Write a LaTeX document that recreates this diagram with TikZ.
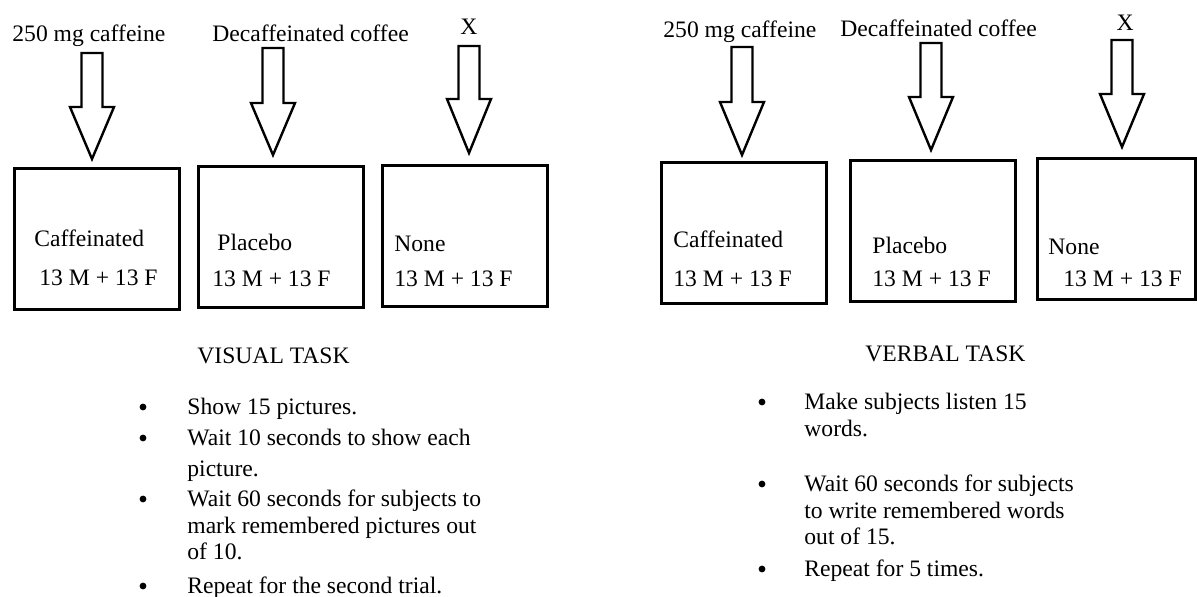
\documentclass[tikz,border=0pt]{standalone}
\usepackage{fontspec}
\setmainfont{Liberation Serif}
\usetikzlibrary{positioning}

% hollow block arrow: centre x, top, shoulder, tip
\newcommand{\fatarrow}[4]{%
 \draw[line width=1.2pt](#1-10.5,#2)--(#1+10.5,#2)--(#1+10.5,#3)--(#1+22,#3)--(#1,#4)--(#1-22,#3)--(#1-10.5,#3)--cycle;}

\tikzset{
 group/.style={draw,line width=1.5pt,minimum width=82.5pt,minimum height=70.5pt,inner sep=0pt},
 txt/.style={anchor=base west,inner sep=0pt},
 dot/.style={circle,fill,inner sep=0pt,minimum size=3.4pt}
}

\begin{document}
\begin{tikzpicture}[x=0.5pt,y=-0.5pt,font=\fontsize{11.8}{14}\selectfont]
 \useasboundingbox (0,0) rectangle (1197,596);
 % visual task
 \node[txt] (dose1) at (12,41) {250 mg caffeine};
 \node[txt] (decaf1) at (212,41) {Decaffeinated coffee};
 \node[inner sep=0pt] (x1) at (469,27) {X};
 \fatarrow{92}{53}{107}{159}
 \fatarrow{273}{48}{103}{155}
 \fatarrow{469}{46}{99}{153}
 \node[group] (caf1) at (96.5,238.5) {};
 \node[group] (plac1) at (281,237) {};
 \node[group] (none1) at (464.5,235.5) {};
 \node[txt] (caft1) at (34,246) {Caffeinated};
 \node[txt] (cafn1) at (39,285) {13 M + 13 F};
 \node[txt] (plact1) at (217,250) {Placebo};
 \node[txt] (placn1) at (212,286) {13 M + 13 F};
 \node[txt] (nonet1) at (394,251) {None};
 \node[txt] (nonen1) at (394,286) {13 M + 13 F};
 \node[txt] (vis) at (197,363) {VISUAL TASK};
 \node[dot] (b1) at (143,407) {};
 \node[txt] (v1) at (187,414) {Show 15 pictures.};
 \node[dot] (b2) at (143,438) {};
 \node[txt] (v2) at (187,445) {Wait 10 seconds to show each};
 \node[txt] (v2b) at (187,476) {picture.};
 \node[dot] (b3) at (143,499) {};
 \node[txt] (v3) at (187,506) {Wait 60 seconds for subjects to};
 \node[txt] (v3b) at (187,533) {mark remembered pictures out};
 \node[txt] (v3c) at (187,559) {of 10.};
 \node[dot] (b4) at (143,586) {};
 \node[txt] (v4) at (187,593) {Repeat for the second trial.};
 % verbal task
 \node[txt] (dose2) at (663,37) {250 mg caffeine};
 \node[txt] (decaf2) at (840,36) {Decaffeinated coffee};
 \node[inner sep=0pt] (x2) at (1125,23) {X};
 \fatarrow{742}{47}{102}{155}
 \fatarrow{931}{43}{97}{150}
 \fatarrow{1122}{40}{94}{147}
 \node[group] (caf2) at (743.5,232.5) {};
 \node[group] (plac2) at (933,231) {};
 \node[group,minimum width=79pt] (none2) at (1116,229) {};
 \node[txt] (caft2) at (673,247) {Caffeinated};
 \node[txt] (cafn2) at (673,286) {13 M + 13 F};
 \node[txt] (plact2) at (872,253) {Placebo};
 \node[txt] (placn2) at (872,286) {13 M + 13 F};
 \node[txt] (nonet2) at (1048,254) {None};
 \node[txt] (nonen2) at (1063,286) {13 M + 13 F};
 \node[txt] (verb) at (865,361) {VERBAL TASK};
 \node[dot] (c1) at (762,402) {};
 \node[txt] (w1) at (804,409) {Make subjects listen 15};
 \node[txt] (w1b) at (804,436) {words.};
 \node[dot] (c2) at (762,484) {};
 \node[txt] (w2) at (804,491) {Wait 60 seconds for subjects};
 \node[txt] (w2b) at (804,518) {to write remembered words};
 \node[txt] (w2c) at (804,544) {out of 15.};
 \node[dot] (c3) at (762,569) {};
 \node[txt] (w3) at (804,576) {Repeat for 5 times.};
\end{tikzpicture}
\end{document}
